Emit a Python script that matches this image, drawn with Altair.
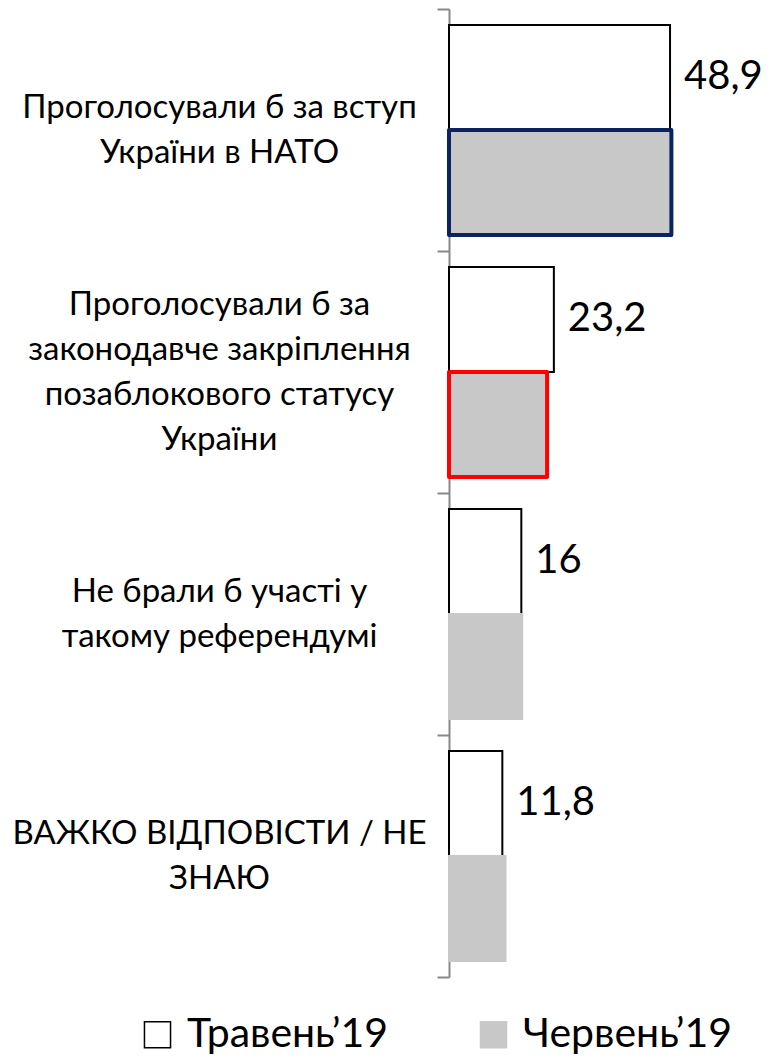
import altair as alt
import pandas as pd

categories = [
    "Проголосували б за вступ|України в НАТО",
    "Проголосували б за|законодавче закріплення|позаблокового статусу|України",
    "Не брали б участі у|такому референдумі",
    "ВАЖКО ВІДПОВІСТИ / НЕ|ЗНАЮ",
]
series = ["Травень’19", "Червень’19"]
may_values = [48.9, 23.2, 16.0, 11.8]
june_values = [49.2, 21.7, 16.2, 12.5]
may_labels = ["48,9", "23,2", "16", "11,8"]
june_outline = ["#0b2461", "#ff0000", None, None]

rows = []
for i, c in enumerate(categories):
    rows.append({"category": c, "series": series[0], "value": may_values[i],
                 "label": may_labels[i], "outline": None})
    rows.append({"category": c, "series": series[1], "value": june_values[i],
                 "label": "", "outline": june_outline[i]})
df = pd.DataFrame(rows)

FONT = "Lato"
LINE_H = 45

# pad every label to 4 lines so that a single offset centres each block
label_expr = (
    "length(split(datum.label, '|')) == 4 ? split(datum.label, '|') : "
    "split('|' + datum.label + '|', '|')"
)

y_enc = alt.Y(
    "category:N", sort=categories, title=None,
    scale=alt.Scale(paddingInner=0, paddingOuter=0),
    axis=alt.Axis(
        labelExpr=label_expr,
        labelAlign="center", labelBaseline="middle",
        labelOffset=-1.5 * LINE_H,
        labelPadding=218, labelFontSize=33, labelLineHeight=LINE_H,
        labelFont=FONT, labelColor="black", labelLimit=0,
        tickBand="extent", tickSize=12, tickColor="#888888", tickWidth=2,
        domainColor="#888888", domainWidth=2,
    ),
)
yoff_enc = alt.YOffset("series:N", sort=series,
                       scale=alt.Scale(domain=series, paddingOuter=0.152, paddingInner=0))
x_enc = alt.X("value:Q", axis=None, scale=alt.Scale(domain=[0, 66.37], nice=False))

base = alt.Chart(df)

bars = base.mark_bar(strokeWidth=2).encode(
    x=x_enc, y=y_enc, yOffset=yoff_enc,
    fill=alt.Fill("series:N", sort=series, title=None,
                  scale=alt.Scale(domain=series, range=["white", "#c8c8c8"])),
    stroke=alt.Stroke("series:N", sort=series, title=None,
                      scale=alt.Scale(domain=series, range=["black", "#c8c8c8"])),
)

outlines = base.transform_filter("datum.outline != null").mark_bar(
    filled=False, strokeWidth=4, strokeJoin="round"
).encode(
    x=x_enc, y=y_enc, yOffset=yoff_enc,
    color=alt.Color("outline:N", scale=None),
)

labels = base.transform_filter(alt.datum.series == series[0]).mark_text(
    align="left", baseline="middle", dx=14, fontSize=40, font=FONT, color="black"
).encode(
    x=x_enc, y=y_enc, yOffset=yoff_enc, text="label:N",
)

chart = alt.layer(bars, outlines, labels).properties(
    width=300, height=968,
    autosize=alt.AutoSizeParams(type="none"),
    padding={"left": 441, "top": 1, "right": 16, "bottom": 86},
).configure_view(stroke=None).configure_legend(
    orient="none", legendX=-312, legendY=1005, direction="horizontal",
    symbolType="square", symbolSize=680, symbolStrokeWidth=1.5,
    labelFontSize=41, labelFont=FONT, labelColor="black", labelLimit=500,
    columnPadding=84, labelOffset=9, padding=0,
)

chart.save("out.html", embed_options={"renderer": "svg", "actions": False})
